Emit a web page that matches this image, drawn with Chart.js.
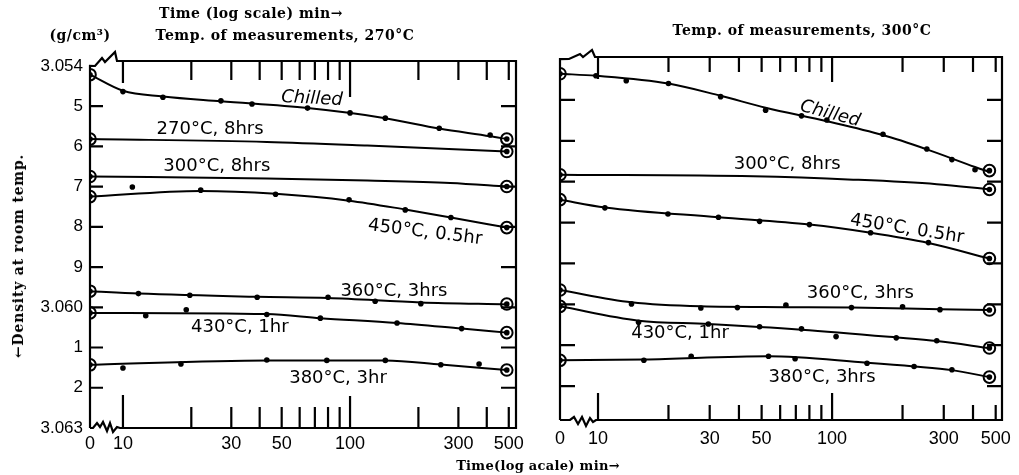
<!DOCTYPE html>
<html><head><meta charset="utf-8">
<script src="https://cdn.jsdelivr.net/npm/chart.js@4.4.1/dist/chart.umd.min.js"></script>
<style>
html,body{margin:0;padding:0;background:#fff;}
#wrap{position:relative;width:1019px;height:475px;overflow:hidden;background:#fff;}
.c{position:absolute;top:0;height:475px;}
.t{position:absolute;font-family:"DejaVu Serif",serif;font-weight:bold;font-size:14px;letter-spacing:0.5px;color:#000;white-space:nowrap;transform:translate(-50%,-50%);}
.v{position:absolute;font-family:"DejaVu Serif",serif;font-weight:bold;font-size:14px;letter-spacing:0.8px;color:#000;white-space:nowrap;transform:translate(-50%,-50%) rotate(-90deg);}
</style></head><body>
<div id="wrap">
<div class="c" style="left:0;width:540px"><canvas id="cL"></canvas></div>
<div class="c" style="left:540px;width:479px"><canvas id="cR"></canvas></div>
<div class="t" style="left:251px;top:13px">Time (log scale) min→</div>
<div class="t" style="left:80px;top:35px">(g/cm³)</div>
<div class="t" style="left:285px;top:35px">Temp. of measurements, 270°C</div>
<div class="t" style="left:802px;top:30px">Temp. of measurements, 300°C</div>
<div class="t" style="left:538px;top:465px;font-size:13px;letter-spacing:0.3px">Time(log acale) min→</div>
<div class="v" style="left:18px;top:256px">←Density at room temp.</div>
</div>
<script>
// ---------- axis ticks ----------
const TIME_LABEL_TICKS = [0, 10, 30, 50, 100, 300, 500];
const TIME_MARK_TICKS = [10, 20, 30, 40, 50, 60, 70, 80, 90, 100, 200, 300, 400, 500];
const DENSITY_TICKS = [3.054, 3.055, 3.056, 3.057, 3.058, 3.059, 3.060, 3.061, 3.062, 3.063];
const DENSITY_TICK_LABELS = ['3.054', '5', '6', '7', '8', '9', '3.060', '1', '2', '3.063'];

// ---------- left panel: measured at 270°C ----------
const L_CHILLED_T = [0, 10, 15, 27, 37, 65, 100, 143, 247, 414, 490];
const L_CHILLED_D = [3.05422, 3.05464, 3.05478, 3.05487, 3.05495, 3.05505, 3.05517, 3.05530, 3.05555, 3.05572, 3.05582];
const L_CHILLED_CURVE_T = [0, 10, 15, 27, 65, 143, 247, 414, 490];
const L_CHILLED_CURVE_D = [3.05422, 3.05462, 3.05476, 3.05488, 3.05505, 3.05530, 3.05556, 3.05575, 3.05582];
const L_270_8_T = [0, 490];
const L_270_8_D = [3.05582, 3.05613];
const L_270_8_CURVE_T = [0, 43, 119, 490];
const L_270_8_CURVE_D = [3.05582, 3.05589, 3.05598, 3.05613];
const L_300_8_T = [0, 490];
const L_300_8_D = [3.05675, 3.05700];
const L_300_8_CURVE_T = [0, 43, 119, 276, 490];
const L_300_8_CURVE_D = [3.05675, 3.05680, 3.05685, 3.05691, 3.05700];
const L_450_T = [0, 11, 22, 47, 99, 175, 278, 490];
const L_450_D = [3.05725, 3.05701, 3.05709, 3.05719, 3.05733, 3.05758, 3.05777, 3.05802];
const L_450_CURVE_T = [0, 22, 47, 99, 175, 278, 490];
const L_450_CURVE_D = [3.05725, 3.05711, 3.05718, 3.05735, 3.05757, 3.05777, 3.05802];
const L_360_T = [0, 11.7, 19.7, 39, 80, 129, 205, 490];
const L_360_D = [3.05960, 3.05966, 3.05970, 3.05975, 3.05975, 3.05985, 3.05991, 3.05992];
const L_360_CURVE_T = [0, 11.7, 39, 80, 205, 490];
const L_360_CURVE_D = [3.05960, 3.05966, 3.05974, 3.05977, 3.05988, 3.05993];
const L_430_T = [0, 12.6, 19, 43, 74, 161, 310, 490];
const L_430_D = [3.06014, 3.06021, 3.06006, 3.06018, 3.06027, 3.06039, 3.06053, 3.06063];
const L_430_CURVE_T = [0, 43, 74, 161, 310, 490];
const L_430_CURVE_D = [3.06014, 3.06017, 3.06027, 3.06039, 3.06053, 3.06063];
const L_380_T = [0, 10, 18, 43, 79, 143, 251, 370, 490];
const L_380_D = [3.06143, 3.06151, 3.06141, 3.06131, 3.06132, 3.06132, 3.06143, 3.06141, 3.06156];
const L_380_CURVE_T = [0, 43, 143, 251, 490];
const L_380_CURVE_D = [3.06143, 3.06132, 3.06132, 3.06142, 3.06156];

// ---------- right panel: measured at 300°C ----------
const R_CHILLED_T = [0, 9.8, 13.2, 20, 33.4, 52, 74, 95, 165, 254, 325, 408, 470];
const R_CHILLED_D = [3.05436, 3.05441, 3.05453, 3.05460, 3.05492, 3.05525, 3.05539, 3.05549, 3.05584, 3.05620, 3.05646, 3.05671, 3.05673];
const R_CHILLED_CURVE_T = [0, 9.8, 20, 33.4, 52, 95, 165, 254, 408, 470];
const R_CHILLED_CURVE_D = [3.05436, 3.05441, 3.05460, 3.05490, 3.05519, 3.05552, 3.05586, 3.05621, 3.05664, 3.05676];
const R_300_8_T = [0, 470];
const R_300_8_D = [3.05683, 3.05719];
const R_300_8_CURVE_T = [0, 46, 123, 280, 470];
const R_300_8_CURVE_D = [3.05683, 3.05687, 3.05695, 3.05706, 3.05719];
const R_450_T = [0, 10.7, 19.9, 32.7, 49, 80, 146, 258, 470];
const R_450_D = [3.05744, 3.05764, 3.05779, 3.05787, 3.05797, 3.05805, 3.05825, 3.05849, 3.05888];
const R_450_CURVE_T = [0, 10.7, 32.7, 80, 146, 258, 470];
const R_450_CURVE_D = [3.05744, 3.05763, 3.05787, 3.05805, 3.05825, 3.05850, 3.05888];
const R_360_T = [0, 13.9, 27.5, 39.4, 63.5, 121, 200, 289, 470];
const R_360_D = [3.05965, 3.05999, 3.06009, 3.06008, 3.06002, 3.06008, 3.06006, 3.06013, 3.06014];
const R_360_CURVE_T = [0, 13.9, 27.5, 63.5, 121, 289, 470];
const R_360_CURVE_D = [3.05965, 3.05995, 3.06005, 3.06007, 3.06008, 3.06012, 3.06014];
const R_430_T = [0, 14.9, 29.6, 49, 74, 104, 188, 280, 470];
const R_430_D = [3.06005, 3.06044, 3.06048, 3.06055, 3.06060, 3.06079, 3.06082, 3.06089, 3.06107];
const R_430_CURVE_T = [0, 14.9, 29.6, 74, 188, 280, 470];
const R_430_CURVE_D = [3.06005, 3.06040, 3.06048, 3.06062, 3.06081, 3.06090, 3.06107];
const R_380_T = [0, 15.7, 25, 53.5, 69.5, 141, 224, 325, 470];
const R_380_D = [3.06137, 3.06137, 3.06127, 3.06127, 3.06133, 3.06144, 3.06152, 3.06160, 3.06178];
const R_380_CURVE_T = [0, 15.7, 53.5, 141, 224, 325, 470];
const R_380_CURVE_D = [3.06137, 3.06135, 3.06127, 3.06143, 3.06152, 3.06161, 3.06178];

// ---------- series labels ----------
const L_LABELS = ['Chilled', '270°C, 8hrs', '300°C, 8hrs', '450°C, 0.5hr', '360°C, 3hrs', '430°C, 1hr', '380°C, 3hr'];
const R_LABELS = ['Chilled', '300°C, 8hrs', '450°C, 0.5hr', '360°C, 3hrs', '430°C, 1hr', '380°C, 3hrs'];

const LEFT_SERIES = [
  {t: L_CHILLED_T, d: L_CHILLED_D, ct: L_CHILLED_CURVE_T, cd: L_CHILLED_CURVE_D},
  {t: L_270_8_T, d: L_270_8_D, ct: L_270_8_CURVE_T, cd: L_270_8_CURVE_D},
  {t: L_300_8_T, d: L_300_8_D, ct: L_300_8_CURVE_T, cd: L_300_8_CURVE_D},
  {t: L_450_T, d: L_450_D, ct: L_450_CURVE_T, cd: L_450_CURVE_D},
  {t: L_360_T, d: L_360_D, ct: L_360_CURVE_T, cd: L_360_CURVE_D},
  {t: L_430_T, d: L_430_D, ct: L_430_CURVE_T, cd: L_430_CURVE_D},
  {t: L_380_T, d: L_380_D, ct: L_380_CURVE_T, cd: L_380_CURVE_D}
];
const RIGHT_SERIES = [
  {t: R_CHILLED_T, d: R_CHILLED_D, ct: R_CHILLED_CURVE_T, cd: R_CHILLED_CURVE_D},
  {t: R_300_8_T, d: R_300_8_D, ct: R_300_8_CURVE_T, cd: R_300_8_CURVE_D},
  {t: R_450_T, d: R_450_D, ct: R_450_CURVE_T, cd: R_450_CURVE_D},
  {t: R_360_T, d: R_360_D, ct: R_360_CURVE_T, cd: R_360_CURVE_D},
  {t: R_430_T, d: R_430_D, ct: R_430_CURVE_T, cd: R_430_CURVE_D},
  {t: R_380_T, d: R_380_D, ct: R_380_CURVE_T, cd: R_380_CURVE_D}
];

// label anchors (data coordinates) and rotation
const L_LABEL_POS = [
  {t: 68, d: 3.05482, rot: 3, italic: true},
  {t: 24.2, d: 3.05557, rot: 0},
  {t: 25.9, d: 3.05649, rot: 0},
  {t: 214, d: 3.05814, rot: 7},
  {t: 156, d: 3.05961, rot: 0},
  {t: 32.7, d: 3.06051, rot: 0},
  {t: 88.5, d: 3.06176, rot: 0}
];
const R_LABEL_POS = [
  {t: 98, d: 3.05534, rot: 15, italic: true},
  {t: 64.3, d: 3.05658, rot: 0},
  {t: 209, d: 3.05816, rot: 9},
  {t: 132, d: 3.05974, rot: 0},
  {t: 22.4, d: 3.06072, rot: 0},
  {t: 90.6, d: 3.06179, rot: 0}
];

function pts(ts, ds, zero) { return ts.map((t, i) => ({x: t === 0 ? zero : t, y: ds[i]})); }

function buildDatasets(series, zero) {
  const out = [];
  series.forEach(s => {
    const dots = pts(s.t, s.d, zero);
    const curve = s.ct ? pts(s.ct, s.cd, zero) : dots;
    out.push({data: curve, borderColor: '#000', borderWidth: 2, pointRadius: 0,
      cubicInterpolationMode: 'monotone', fill: false});
    out.push({data: dots, showLine: false, pointRadius: 2.8, pointBackgroundColor: '#000',
      pointBorderWidth: 0, pointBorderColor: '#000'});
    out.push({data: [dots[0], dots[dots.length - 1]], showLine: false, pointRadius: 5.8,
      pointBorderWidth: 2, pointBorderColor: '#000', pointBackgroundColor: 'rgba(0,0,0,0)'});
  });
  return out;
}

const framePlugin = {
  id: 'frame',
  beforeDatasetsDraw(chart, args, o) {
    const {ctx, chartArea: {left: L, right: R, top: T, bottom: B}, scales: {x, y}} = chart;
    ctx.save();
    ctx.strokeStyle = '#000';
    ctx.lineWidth = 2.2;
    ctx.lineJoin = 'miter';
    const yTop = y.getPixelForValue(DENSITY_TICKS[0]);
    ctx.beginPath();
    ctx.moveTo(L, B);
    ctx.lineTo(L, yTop);
    o.topBreak.forEach(p => ctx.lineTo(L + p[0], T + p[1]));
    ctx.lineTo(R, T);
    ctx.lineTo(R, B);
    o.bottomBreak.forEach(p => ctx.lineTo(L + p[0], B + p[1]));
    ctx.lineTo(L, B);
    ctx.stroke();

    ctx.beginPath();
    TIME_MARK_TICKS.forEach(v => {
      const px = x.getPixelForValue(v);
      const topLen = v === 10 ? o.topLong10 : (v === 100 ? o.topLong100 : o.topShort);
      const botLen = v === 10 ? o.botLong10 : (v === 100 ? o.botLong100 : o.botShort);
      ctx.moveTo(px, T); ctx.lineTo(px, T + topLen);
      ctx.moveTo(px, B); ctx.lineTo(px, B - botLen);
    });
    DENSITY_TICKS.slice(1, -1).forEach(v => {
      const py = y.getPixelForValue(v);
      ctx.moveTo(L, py); ctx.lineTo(L + o.leftTick, py);
      ctx.moveTo(R, py); ctx.lineTo(R - o.rightTick, py);
    });
    ctx.stroke();
    ctx.restore();
  },
  afterDatasetsDraw(chart, args, o) {
    const {ctx, scales: {x, y}} = chart;
    ctx.save();
    ctx.fillStyle = '#000';
    ctx.textAlign = 'center';
    ctx.textBaseline = 'middle';
    o.labels.forEach((txt, i) => {
      const p = o.labelPos[i];
      const px = x.getPixelForValue(p.t), py = y.getPixelForValue(p.d);
      ctx.save();
      ctx.translate(px, py);
      ctx.rotate(p.rot * Math.PI / 180);
      ctx.font = (p.italic ? 'italic ' : '') + '18px "DejaVu Sans"';
      ctx.fillText(txt, 0, 0);
      ctx.restore();
    });
    ctx.restore();
  }
};

function makeChart(id, cfg) {
  const zero = cfg.zero;
  return new Chart(document.getElementById(id), {
    type: 'line',
    data: {datasets: buildDatasets(cfg.series, zero)},
    plugins: [framePlugin],
    options: {
      responsive: true,
      maintainAspectRatio: false,
      animation: false,
      events: [],
      layout: {padding: {top: cfg.padTop, right: cfg.padRight, left: 0, bottom: 0}},
      plugins: {
        legend: {display: false},
        tooltip: {enabled: false},
        frame: cfg.frame
      },
      scales: {
        x: {
          type: 'logarithmic',
          min: zero, max: cfg.xmax,
          bounds: 'data',
          grid: {display: false, drawTicks: false},
          border: {display: false},
          afterBuildTicks: s => { s.ticks = TIME_LABEL_TICKS.map(t => ({value: t === 0 ? zero : t})); },
          afterFit: s => { s.height = cfg.xAxisHeight; },
          ticks: {
            autoSkip: false, maxRotation: 0, minRotation: 0, padding: cfg.xPad,
            color: '#000', font: {family: '"Liberation Sans"', size: 18},
            callback: (v, i) => String(TIME_LABEL_TICKS[i])
          }
        },
        y: {
          type: 'linear',
          reverse: true,
          min: cfg.ymin, max: cfg.ymax,
          bounds: 'data',
          grid: {display: false, drawTicks: false},
          border: {display: false},
          afterBuildTicks: s => { s.ticks = DENSITY_TICKS.map(v => ({value: v})); },
          afterFit: s => { s.width = cfg.yAxisWidth; },
          ticks: {
            display: cfg.yLabels, padding: 7, color: '#000',
            font: {family: '"Liberation Sans"', size: 17},
            callback: (v, i) => DENSITY_TICK_LABELS[i]
          }
        }
      }
    }
  });
}

makeChart('cL', {
  series: LEFT_SERIES, zero: 7.16, xmax: 538,
  ymin: 3.05388, ymax: 3.063,
  padTop: 61, padRight: 24, xAxisHeight: 47, yAxisWidth: 90, yLabels: true, xPad: 5,
  frame: {
    labels: L_LABELS, labelPos: L_LABEL_POS,
    topBreak: [[5, 5], [12, -3], [15, 1], [25, -9], [27, 0]],
    bottomBreak: [[30, 0], [27, -1], [23, 4], [20, -5], [17, 3], [13, -6], [10, -1], [7, -5], [3, 0]],
    topLong10: 22, topLong100: 36, topShort: 19,
    botLong10: 33, botLong100: 32, botShort: 21,
    leftTick: 13, rightTick: 15
  }
});

makeChart('cR', {
  series: RIGHT_SERIES, zero: 6.88, xmax: 532,
  ymin: 3.05395, ymax: 3.06283,
  padTop: 57, padRight: 17, xAxisHeight: 55, yAxisWidth: 20, yLabels: false, xPad: 8,
  frame: {
    labels: R_LABELS, labelPos: R_LABEL_POS,
    topBreak: [[9, 2], [20, -3], [23, 0], [32, -7], [35, 0]],
    bottomBreak: [[36, 0], [33, 2], [30, -2], [26, 6], [22, -3], [18, 4], [14, -3], [10, 0]],
    topLong10: 22, topLong100: 25, topShort: 15,
    botLong10: 27, botLong100: 27, botShort: 15,
    leftTick: 15, rightTick: 15
  }
});
</script>
</body></html>
